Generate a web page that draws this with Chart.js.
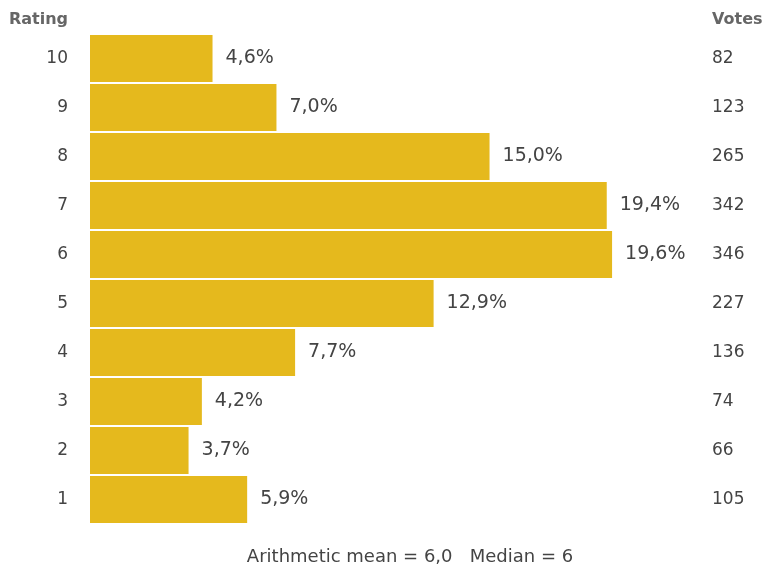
<!DOCTYPE html>
<html>
<head>
<meta charset="utf-8">
<script src="https://cdn.jsdelivr.net/npm/chart.js@4/dist/chart.umd.min.js"></script>
<style>
  html, body { margin: 0; padding: 0; background: #fff; }
  #wrap { width: 765px; height: 565px; }
</style>
</head>
<body>
<div id="wrap"><canvas id="ratingChart" width="765" height="565"></canvas></div>
<script>
const ratings = ["10", "9", "8", "7", "6", "5", "4", "3", "2", "1"];
const percents = [4.6, 7.0, 15.0, 19.4, 19.6, 12.9, 7.7, 4.2, 3.7, 5.9];
const votes = ["82", "123", "265", "342", "346", "227", "136", "74", "66", "105"];
const meanText = "Arithmetic mean = 6,0";
const medianText = "Median = 6";

const fmt = (v) => v.toFixed(1).replace(".", ",") + "%";
const FONT = "'DejaVu Sans', Verdana, sans-serif";

// strip the half-label padding that vertical axes add
const noPad = (s, w) => {
  s.width = w;
  s.paddingTop = 0;
  s.paddingBottom = 0;
};

const extras = {
  id: "extras",
  afterDatasetsDraw(chart) {
    const { ctx } = chart;
    const meta = chart.getDatasetMeta(0);
    ctx.save();
    ctx.font = "19px " + FONT;
    ctx.fillStyle = "#444";
    ctx.textAlign = "left";
    ctx.textBaseline = "middle";
    meta.data.forEach((bar, i) => {
      ctx.fillText(fmt(percents[i]), bar.x + 13, bar.y);
    });
    ctx.font = "bold 16px " + FONT;
    ctx.fillStyle = "#666";
    ctx.textAlign = "right";
    ctx.fillText("Rating", 68, 20);
    ctx.textAlign = "left";
    ctx.fillText("Votes", 712, 20);
    ctx.font = "18px " + FONT;
    ctx.fillStyle = "#444";
    ctx.textAlign = "center";
    ctx.fillText(meanText + "   " + medianText, 410, 557);
    ctx.restore();
  },
};

const ctx = document.getElementById("ratingChart").getContext("2d");
new Chart(ctx, {
  type: "bar",
  data: {
    labels: ratings,
    datasets: [
      {
        data: percents,
        backgroundColor: "#e5b91d",
        barPercentage: 1,
        categoryPercentage: 0.96,
        yAxisID: "y",
      },
    ],
  },
  options: {
    indexAxis: "y",
    responsive: false,
    animation: false,
    layout: { padding: { top: 34, bottom: 41, left: 0, right: 0 } },
    plugins: { legend: { display: false }, tooltip: { enabled: false } },
    scales: {
      x: { display: false, min: 0, max: 22 },
      y: {
        position: "left",
        grid: { display: false, drawTicks: false },
        border: { display: false },
        ticks: { padding: 22, color: "#444", font: { family: FONT, size: 17 } },
        afterFit: (s) => noPad(s, 90),
      },
      y2: {
        type: "category",
        position: "right",
        labels: votes,
        grid: { display: false, drawTicks: false },
        border: { display: false },
        ticks: { padding: 36, color: "#444", font: { family: FONT, size: 17 } },
        afterFit: (s) => noPad(s, 89),
      },
    },
  },
  plugins: [extras],
});
</script>
</body>
</html>
